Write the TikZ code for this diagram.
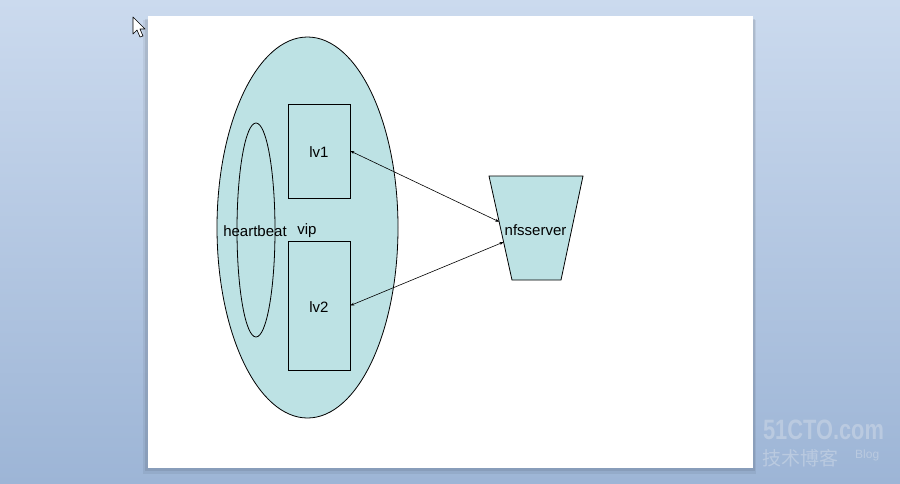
\documentclass[tikz,border=0pt]{standalone}
\usepackage{fontspec}
\setmainfont{Liberation Sans}
\newfontfamily\cjkfont{Noto Sans CJK SC}
\usepackage{graphicx}
\usepackage{tikz}
\usetikzlibrary{shapes.geometric,arrows.meta,positioning,calc}

\definecolor{paleteal}{RGB}{189,226,228}
\definecolor{bgtop}{RGB}{203,218,238}
\definecolor{bgbot}{RGB}{157,181,214}
\definecolor{markgray}{RGB}{186,202,224}

\begin{document}
\begin{tikzpicture}[x=1pt,y=-1pt,
		shape fill/.style={fill=paleteal,draw=black,line width=0.8pt},
		box/.style={rectangle,shape fill,minimum width=62pt,inner sep=0pt},
		label text/.style={font=\fontsize{15}{18}\selectfont,inner sep=0pt},
		link/.style={{Stealth[length=4pt,width=3pt]}-{Stealth[length=4pt,width=3pt]},line width=0.6pt}]
	\useasboundingbox (0,0) rectangle (900,483);
	% background and slide
	\shade[top color=bgtop,bottom color=bgbot] (0,0) rectangle (900,483);
	\fill[black,opacity=0.06] (143,20) rectangle (756,474);
	\fill[black,opacity=0.08] (145,19) rectangle (755,471);
	\fill[white] (148,16) rectangle (753,468);
	% cursor
	\draw[fill=white,line width=0.6pt,line join=round] (133,17) -- (133,34) -- (137,30) -- (140,37) -- (143,36) -- (140,29) -- (145,29) -- cycle;
	% cluster
	\node[ellipse,shape fill,minimum width=181pt,minimum height=381pt,inner sep=0pt] (cluster) at (307.5,227.5) {};
	\node[ellipse,draw=black,line width=0.8pt,minimum width=38pt,minimum height=214pt,inner sep=0pt] (hb) at (256,230) {};
	\node[box,minimum height=94pt] (lv1) at (319,151) {};
	\node[box,minimum height=129pt] (lv2) at (319,305.5) {};
	\node[label text] at ([yshift=-1pt]lv1) {lv1};
	\node[label text] at ([yshift=-2pt]lv2) {lv2};
	\node[label text] (hbtext) at (255,231.5) {heartbeat};
	\node[label text] (vip) at (307,230.5) {vip};
	% nfs server
	\coordinate (nfsTL) at (489,176);
	\coordinate (nfsTR) at (583,176);
	\coordinate (nfsBR) at (561,280);
	\coordinate (nfsBL) at (512,280);
	\draw[shape fill] (nfsTL) -- (nfsTR) -- (nfsBR) -- (nfsBL) -- cycle;
	\node[label text] (nfs) at (535.5,230) {nfsserver};
	\coordinate (nfsin1) at ($(nfsTL)!0.44!(nfsBL)$);
	\coordinate (nfsin2) at ($(nfsTL)!0.635!(nfsBL)$);
	\draw[link] (lv1.east) -- (nfsin1);
	\draw[link] (lv2.east) -- (nfsin2);
	% watermark
	\node[markgray,font=\fontsize{28}{30}\selectfont\bfseries,inner sep=0pt] (mark) at (823.5,430) {\scalebox{0.78}[1]{51CTO.com}};
	\node[markgray,font=\cjkfont\fontsize{19}{20}\selectfont,inner sep=0pt,anchor=west] (markcn) at (762,458) {技术博客};
	\node[markgray,font=\fontsize{12}{13}\selectfont,inner sep=0pt,anchor=west] at (855,455) {Blog};
\end{tikzpicture}
\end{document}
